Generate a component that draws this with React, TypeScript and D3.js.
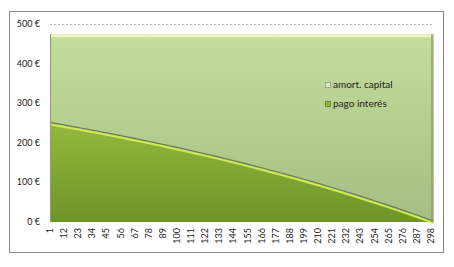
import React from "react";
import * as d3 from "d3";

const months = [1, 12, 23, 34, 45, 56, 67, 78, 89, 100, 111, 122, 133, 144, 155, 166, 177, 188, 199, 210, 221, 232, 243, 254, 265, 276, 287, 298, 300];
const interes = [250.0, 243.8, 237.3, 230.7, 224.0, 217.0, 209.8, 202.5, 194.9, 187.1, 179.1, 170.9, 162.5, 153.8, 144.9, 135.7, 126.3, 116.6, 106.6, 96.4, 85.9, 75.0, 63.9, 52.5, 40.8, 28.7, 16.3, 3.5, 1.2];
const amortizacion = [224.2, 230.4, 236.9, 243.5, 250.2, 257.2, 264.4, 271.7, 279.3, 287.1, 295.1, 303.3, 311.7, 320.4, 329.3, 338.5, 347.9, 357.6, 367.6, 377.8, 388.3, 399.2, 410.3, 421.7, 433.4, 445.5, 457.9, 470.7, 473.0];
const xTickLabels = ["1", "12", "23", "34", "45", "56", "67", "78", "89", "100", "111", "122", "133", "144", "155", "166", "177", "188", "199", "210", "221", "232", "243", "254", "265", "276", "287", "298"];
const yTicks = [0, 100, 200, 300, 400, 500];
const seriesNames = ["amort. capital", "pago interés"];

const FONT = "Lato, 'Open Sans', sans-serif";

export default function App() {
  const W = 454, H = 267;
  const x = d3.scaleLinear().domain([1, 300]).range([50, 433.5]);
  const y = d3.scaleLinear().domain([0, 500]).range([222, 24]);

  const rows = months.map((m, i) => ({ m, i: interes[i], t: interes[i] + amortizacion[i] }));
  const curve = d3.curveMonotoneX;
  const areaInt = d3.area<any>().x(d => x(d.m)).y0(y(0)).y1(d => y(d.i)).curve(curve);
  const areaAm = d3.area<any>().x(d => x(d.m)).y0(d => y(d.i)).y1(d => y(d.t)).curve(curve);
  const lineInt = d3.line<any>().x(d => x(d.m)).y(d => y(d.i)).curve(curve);
  const lineTot = d3.line<any>().x(d => x(d.m)).y(d => y(d.t)).curve(curve);

  const xr = x(300);
  const topY = y(rows[0].t);

  return (
    <div style={{ position: "absolute", left: 0, top: 0 }}>
      <svg width={W} height={H} style={{ display: "block" }}>
        <defs>
          <linearGradient id="gAm" x1="0" y1="0" x2="0" y2="1">
            <stop offset="0" stopColor="#c5dd9c" />
            <stop offset="1" stopColor="#a6bd84" />
          </linearGradient>
          <linearGradient id="gInt" x1="0" y1="0" x2="0" y2="1">
            <stop offset="0" stopColor="#94b83c" />
            <stop offset="1" stopColor="#6e9427" />
          </linearGradient>
        </defs>
        <rect x={0} y={0} width={W} height={H} fill="#fff" />
        <rect x={9.5} y={11.5} width={434} height={241} fill="#fff" stroke="#8a8a8a" strokeWidth={1} />
        <line x1={50} x2={433.5} y1={y(500) + 0.5} y2={y(500) + 0.5} stroke="#b8b8b8" strokeDasharray="2,2" />

        <path d={areaAm(rows) || ""} fill="url(#gAm)" />
        <path d={areaInt(rows) || ""} fill="url(#gInt)" />

        {/* bevel: top highlight of total */}
        <path d={lineTot(rows) || ""} fill="none" stroke="#eef7c4" strokeWidth={2.5} transform="translate(0,1.5)" />
        <path d={lineTot(rows) || ""} fill="none" stroke="#d7e9a6" strokeWidth={1} transform="translate(0,3)" />
        {/* interest top edge: dark shadow line + bright highlight */}
        <path d={lineInt(rows) || ""} fill="none" stroke="#6b7a58" strokeWidth={1.2} transform="translate(0,-0.5)" />
        <path d={lineInt(rows) || ""} fill="none" stroke="#cfe95a" strokeWidth={2} transform="translate(0,1.5)" />
        {/* right edge shadow */}
        <rect x={xr - 2.5} y={topY} width={2.5} height={y(0) - topY} fill="#8c9e72" opacity={0.75} />
        {/* left axis line */}
        <line x1={50.5} x2={50.5} y1={topY} y2={y(0)} stroke="#8d9a7c" strokeWidth={1} />

        {yTicks.map(t => (
          <text key={t} x={40} y={y(t) + 3} textAnchor="end" fontFamily={FONT} fontSize={9} fill="#222">
            {t} €
          </text>
        ))}
        {xTickLabels.map(l => (
          <text key={l} transform={`translate(${x(+l) + 3},${228}) rotate(-90)`} textAnchor="end" fontFamily={FONT} fontSize={9} fill="#222">
            {l}
          </text>
        ))}

        <g fontFamily={FONT} fontSize={10} fill="#222">
          <rect x={325.5} y={82.5} width={5} height={5} fill="#dfe3d2" stroke="#8f9a80" strokeWidth={0.8} />
          <text x={333} y={88}>{seriesNames[0]}</text>
          <rect x={325.5} y={101.5} width={5} height={5} fill="#8fb634" stroke="#5e7a22" strokeWidth={0.8} />
          <text x={333} y={107}>{seriesNames[1]}</text>
        </g>
      </svg>
    </div>
  );
}
